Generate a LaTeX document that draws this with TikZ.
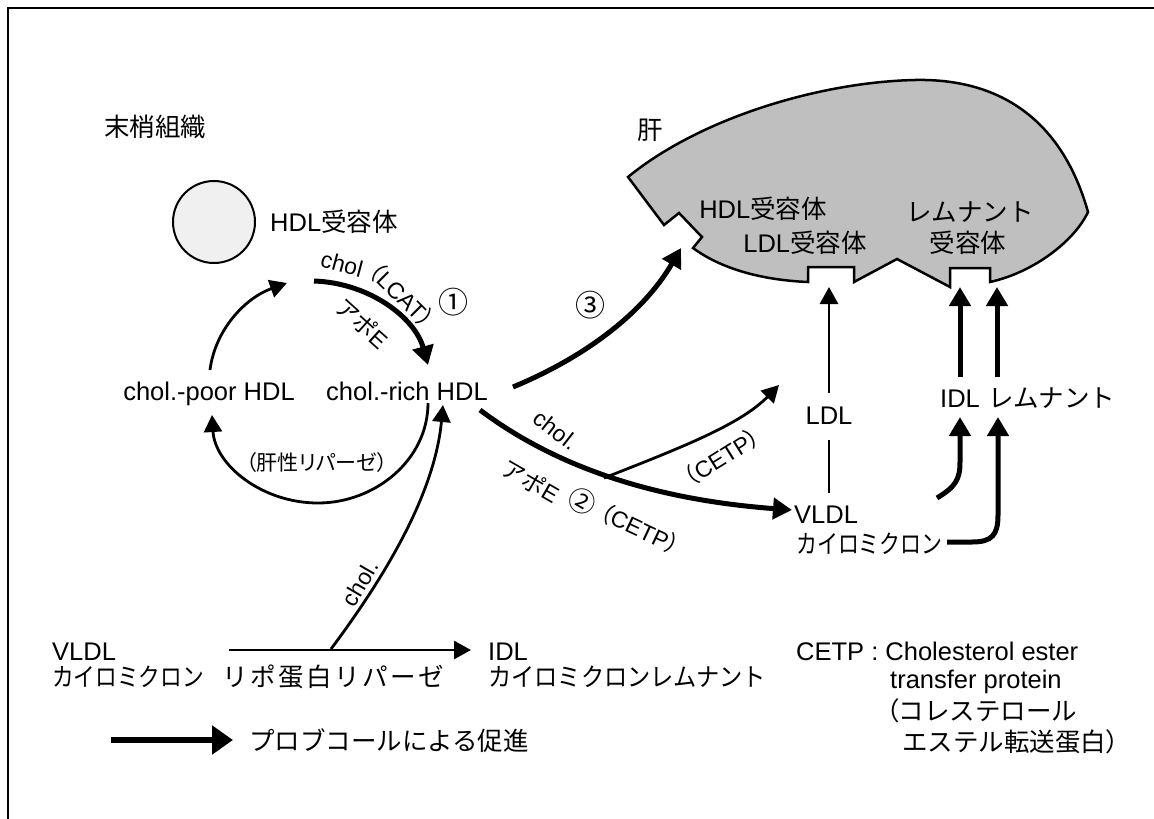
\documentclass[tikz,border=0pt]{standalone}
\usepackage{fontspec}
\usepackage{graphicx}
\setmainfont{Liberation Sans}
\newfontfamily\jpfont{Noto Sans CJK JP}
\newfontfamily\jppfont[RawFeature=+palt]{Noto Sans CJK JP}
\newcommand\J[1]{{\jpfont #1}}
\newcommand\JP[1]{{\jppfont #1}}
\newcommand\JX[2]{\scalebox{#1}[1]{\jpfont #2}}
\newcommand\Sp{\hspace{2.6pt}}
\usetikzlibrary{arrows.meta}
\begin{document}
\begin{tikzpicture}[x=1pt,y=-1pt,
  lbl/.style={inner sep=0pt, font=\fontsize{25.5}{30}\selectfont},
  slbl/.style={inner sep=0pt, font=\fontsize{23}{27}\selectfont},
  numlbl/.style={inner sep=0pt, font=\fontsize{30}{32}\selectfont\jpfont},
  thinarr/.style={line width=2.8pt, -{Triangle[length=17pt,width=18pt]}},
  thickarr/.style={line width=5pt, -{Triangle[length=19pt,width=21pt]}},
  plainline/.style={line width=2.8pt},
]
\useasboundingbox (0,0) rectangle (1154,819);
% frame
\draw[line width=2.5pt] (1154,8) -- (8,8) -- (8,819);

% liver
\draw[line width=2.5pt, fill=black!25, line join=miter]
  (628,177) .. controls (700,118) and (820,82) .. (915,80)
  .. controls (1010,78) and (1065,130) .. (1088,212)
  .. controls (1075,240) and (1035,272) .. (990,282)
  -- (990,268) -- (950,268) -- (950,287) -- (897,259) -- (854,282)
  -- (854,267) -- (808,267) -- (808,282)
  .. controls (760,280) and (720,268) .. (693,248)
  -- (702,237) -- (679,213) -- (664,225) -- cycle;

% HDL receptor circle
\node[circle, draw, line width=2pt, fill=black!6, minimum size=82pt, inner sep=0pt] (hdlcirc) at (214,222) {};

% texts
\node[lbl] (mattan) at (155,127) {\J{末梢組織}};
\node[lbl] (kan) at (650,130) {\J{肝}};
\node[lbl, anchor=west] (hdlrec) at (270,222) {HDL\J{受容体}};
\node[lbl, anchor=base] (poor) at (209,400) {chol.-poor HDL};
\node[lbl, anchor=base] (rich) at (407,400) {chol.-rich HDL};

\node[lbl] (lhdl) at (763,209) {HDL\J{受容体}};
\node[lbl] (lldl) at (805,243) {LDL\J{受容体}};
\node[lbl] (lrem1) at (970,212) {\J{レムナント}};
\node[lbl] (lrem2) at (968,243) {\J{受容体}};

\node[lbl] (ldl) at (829,416) {LDL};
\node[lbl, anchor=base west] (idl) at (940,407) {IDL};
\node[lbl, anchor=base west] (rem) at (988,407) {\J{レムナント}};
\node[lbl, anchor=base west] (vldlR) at (794,523) {VLDL};
\node[lbl, anchor=base west] (chyloR) at (796,553) {\JX{0.82}{カイロミクロン}};

\node[lbl, anchor=base west] (vldlL) at (52,660) {VLDL};
\node[lbl, anchor=base west] (chyloL) at (52,686) {\JX{0.85}{カイロミクロン}};
\node[lbl, anchor=base west] (lpl) at (222,686) {\J{リ\Sp ポ\Sp 蛋\Sp 白\Sp リ\Sp パ\Sp ー\Sp ゼ}};
\node[lbl, anchor=base west] (idlB) at (488,660) {IDL};
\node[lbl, anchor=base west] (chyremB) at (488,686) {\JX{0.91}{カイロミクロンレムナント}};

\node[lbl, anchor=base west] (cetp1) at (796,660) {CETP : Cholesterol ester};
\node[lbl, anchor=base west] (cetp2) at (890,688) {transfer protein};
\node[lbl, anchor=base west] (cetp3) at (886,720) {\JP{（}\J{コレステロール}};
\node[lbl, anchor=base west] (cetp4) at (902,751) {\J{エステル転送蛋白}\JP{）}};

\node[lbl, anchor=base west] (legend) at (249,750) {\J{プロブコールによる促進}};

% arc labels
\node[slbl, rotate=-15] (lchol1) at (342,264) {chol};
\node[slbl, rotate=-45] (llcat) at (402,295) {\JP{（}LCAT\JP{）}};
\node[numlbl] (n1) at (453,302) {①};
\node[slbl, rotate=-42] (lapo1) at (362,323) {\J{アポ}E};
\node[numlbl] (n3) at (590,305) {③};
\node[slbl, rotate=-38] (lchol2) at (556,430) {chol.};
\node[slbl, rotate=-30] (lapo2) at (531,481) {\J{アポ}E};
\node[numlbl, rotate=-30, font=\fontsize{27}{30}\selectfont\jpfont] (n2) at (582,501) {②};
\node[slbl, rotate=-25] (lcetp2) at (640,529) {\JP{（}CETP\JP{）}};
\node[slbl, rotate=32] (lcetp1) at (722,457) {\JP{（}CETP\JP{）}};
\node[slbl, rotate=60] (lchol3) at (360,583) {chol.};
\node[inner sep=0pt, font=\fontsize{21}{25}\selectfont] (lhl) at (317,463) {\JP{（肝性リパーゼ）}};

% coordinates
\coordinate (a1s) at (314,281);
\coordinate (a1e) at (428,365);
\coordinate (upS) at (210,370);
\coordinate (upE) at (287,283);
\coordinate (hlS) at (428,403);
\coordinate (hlM) at (318,503);
\coordinate (hlE) at (212,415);
\coordinate (chS) at (331,649);
\coordinate (chE) at (443,405);
\coordinate (hS) at (229,650);
\coordinate (hE) at (471,650);
\coordinate (a3s) at (513,387);
\coordinate (a3e) at (681,248);
\coordinate (a2s) at (480,410);
\coordinate (a2e) at (792,510);
\coordinate (br) at (604,478);
\coordinate (brE) at (779,385);
\coordinate (ldlT) at (829,393);
\coordinate (ldlRec) at (829,287);
\coordinate (ldlB) at (829,440);
\coordinate (vldlT) at (829,493);
\coordinate (idlT) at (960,377);
\coordinate (idlRec) at (960,287);
\coordinate (remT) at (997,377);
\coordinate (remRec) at (997,287);
\coordinate (lowIs) at (937,498);
\coordinate (lowIe) at (960,417);
\coordinate (lowRs) at (947,542);
\coordinate (lowRe) at (998,417);
\coordinate (legS) at (111,740);
\coordinate (legE) at (233,740);

% connectors
\draw[thickarr] (a1s) .. controls (370,283) and (415,318) .. (a1e);
\draw[thinarr] (upS) .. controls (215,330) and (245,298) .. (upE);
\draw[thinarr] (hlS) .. controls (428,460) and (375,503) .. (hlM)
  .. controls (262,503) and (215,465) .. (hlE);
\draw[thinarr] (chS) .. controls (390,570) and (435,490) .. (chE);
\draw[thinarr] (hS) -- (hE);
\draw[thickarr] (a3s) .. controls (590,355) and (645,310) .. (a3e);
\draw[thickarr] (a2s) .. controls (560,470) and (660,500) .. (a2e);
\draw[thinarr] (br) .. controls (680,448) and (740,425) .. (brE);
\draw[thinarr] (ldlT) -- (ldlRec);
\draw[plainline] (ldlB) -- (vldlT);
\draw[thickarr] (idlT) -- (idlRec);
\draw[thickarr] (remT) -- (remRec);
\draw[thickarr] (lowIs) .. controls (955,487) and (960,480) .. (960,462) -- (lowIe);
\draw[thickarr] (lowRs) -- (972,542) .. controls (992,542) and (998,535) .. (998,515) -- (lowRe);
\draw[line width=5.5pt, -{Triangle[length=21pt,width=28pt]}] (legS) -- (legE);
\end{tikzpicture}
\end{document}
